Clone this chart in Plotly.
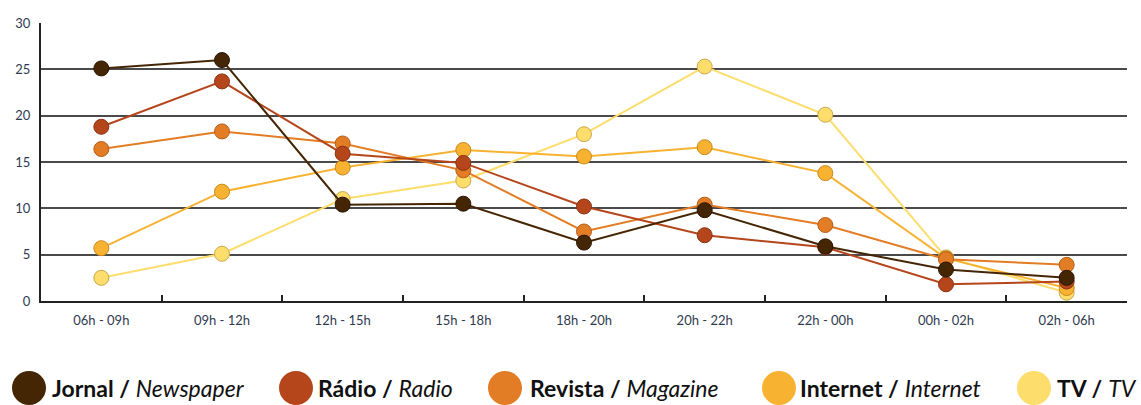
import plotly.graph_objects as go

categories = ["06h - 09h", "09h - 12h", "12h - 15h", "15h - 18h", "18h - 20h",
              "20h - 22h", "22h - 00h", "00h - 02h", "02h - 06h"]

jornal = [25.1, 26.0, 10.4, 10.5, 6.3, 9.8, 5.9, 3.4, 2.5]
radio = [18.8, 23.7, 15.9, 14.9, 10.2, 7.1, 5.8, 1.8, 2.1]
revista = [16.4, 18.3, 17.0, 14.1, 7.5, 10.4, 8.2, 4.5, 3.9]
internet = [5.7, 11.8, 14.4, 16.3, 15.6, 16.6, 13.8, 4.6, 1.4]
tv = [2.5, 5.1, 11.0, 13.0, 18.0, 25.3, 20.1, 4.7, 0.9]

series_pt = ["Jornal", "Rádio", "Revista", "Internet", "TV"]
series_en = ["Newspaper", "Radio", "Magazine", "Internet", "TV"]
series_vals = [jornal, radio, revista, internet, tv]
colors = ["#452604", "#b5461c", "#e27d25", "#f8b231", "#fddd6c"]
edge_colors = ["#2a1602", "#8a3212", "#b55f18", "#c98a1e", "#c9a94a"]

y_ticks = [0, 5, 10, 15, 20, 25, 30]

W, H = 1141, 405
L, R, T, B = 41, 1127, 23, 301

fig = go.Figure()
# draw in reverse so Jornal is on top
for name, vals, c, ec in reversed(list(zip(series_pt, series_vals, colors, edge_colors))):
    fig.add_trace(go.Scatter(
        x=categories, y=vals, mode="lines+markers", name=name,
        line=dict(color=c, width=2),
        marker=dict(size=15, color=c, line=dict(color=ec, width=1)),
        showlegend=False,
    ))

def px_x(p):
    return (p - L) / (R - L)

def px_y(p):
    return (B - p) / (B - T)

legend_circle_x = [29, 296, 505, 779, 1034]
legend_text_x = [50, 316, 528, 798, 1055]
legend_y = 388
shapes = []
annotations = []
for i, (pt, en, c) in enumerate(zip(series_pt, series_en, colors)):
    shapes.append(dict(
        type="circle", xref="paper", yref="paper",
        xsizemode="pixel", ysizemode="pixel",
        xanchor=px_x(legend_circle_x[i]), yanchor=px_y(legend_y),
        x0=-17, x1=17, y0=-17, y1=17,
        fillcolor=c, line=dict(width=0),
    ))
    annotations.append(dict(
        xref="paper", yref="paper",
        x=px_x(legend_text_x[i]), y=px_y(legend_y),
        xanchor="left", yanchor="middle", showarrow=False,
        text=f"<b>{pt} /</b> <i>{en}</i>",
        font=dict(family="Lato", size=23, color="#111111"),
    ))

fig.update_layout(
    width=W, height=H,
    margin=dict(l=L, r=W - R, t=T, b=H - B),
    paper_bgcolor="white", plot_bgcolor="white",
    font=dict(family="Lato", color="#2f3a4f"),
    shapes=shapes, annotations=annotations,
    xaxis=dict(
        type="category", showgrid=False, showline=True, linecolor="#222222",
        linewidth=2, ticks="inside", tickson="boundaries", ticklen=6,
        tickcolor="#222222", tickwidth=1.5, tickfont=dict(size=13, color="#2f3a4f"),
        range=[-0.5, len(categories) - 0.5], zeroline=False,
        ticklabelstandoff=6,
    ),
    yaxis=dict(
        range=[0, 30], tickvals=y_ticks, showgrid=True, gridcolor="#4a4a4a",
        gridwidth=2, showline=True, linecolor="#222222", linewidth=2,
        zeroline=False, ticks="", tickfont=dict(size=13, color="#2f3a4f"),
        ticklabelstandoff=6,
    ),
)

fig.write_html("out.html")
